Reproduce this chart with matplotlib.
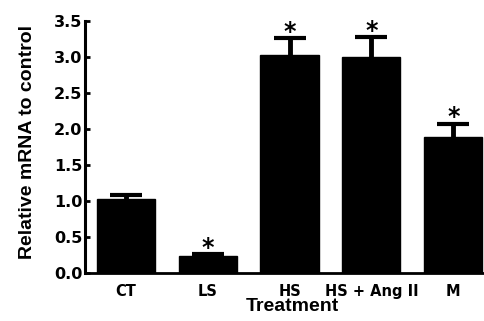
import matplotlib
matplotlib.use('Agg')
from matplotlib import pyplot as plt
from matplotlib.transforms import ScaledTranslation

# values
groups = ['CT', 'LS', 'HS', 'HS + Ang II', 'M']
means = [1.02, 0.23, 3.03, 3.00, 1.88]
sem_up = [0.06, 0.025, 0.23, 0.27, 0.19]
significant = [False, True, True, True, True]

fig = plt.figure(figsize=(4.84, 3.21), dpi=100)
ax = fig.add_axes([0.1756, 0.1505, 0.8244, 0.785])

xs = list(range(len(groups)))
ax.bar(xs, means, width=0.71, color='black', edgecolor='black', zorder=3)
_, caps, _ = ax.errorbar(xs, means, yerr=[[0] * len(sem_up), sem_up], fmt='none',
                         ecolor='black', elinewidth=3.5, capsize=11.5, capthick=3, zorder=2)
for c in caps: # only the upper whisker is drawn in the original
    if list(c.get_ydata()) == means:
        c.set_visible(False)

for x, m, e, s in zip(xs, means, sem_up, significant):
    if s: # asterisk above the error cap
        ax.annotate('*', (x, m + e), xytext=(0, 4.5), textcoords='offset points',
                    ha='center', va='center', fontsize=17, fontweight='bold',
                    family='DejaVu Sans')

ax.set_xlim(-0.498, 4.375)
ax.set_ylim(0, 3.5)
ax.set_yticks([0, 0.5, 1.0, 1.5, 2.0, 2.5, 3.0, 3.5])
ax.set_yticklabels(['%.1f' % v for v in ax.get_yticks()])
ax.set_xticks(xs)
ax.set_xticklabels(groups)

for lbl in ax.get_xticklabels():
    lbl.set_family('DejaVu Sans')
    lbl.set_fontweight('bold')
    lbl.set_fontsize(10.5)
for lbl in ax.get_yticklabels():
    lbl.set_family('DejaVu Sans')
    lbl.set_fontweight('bold')
    lbl.set_fontsize(11.5)

# the long label sits a little right of its bar in the original
long_lbl = ax.get_xticklabels()[3]
long_lbl.set_transform(long_lbl.get_transform() + ScaledTranslation(0.08, 0, fig.dpi_scale_trans))

ax.tick_params(axis='y', direction='in', length=3.5, width=2, pad=2)
ax.tick_params(axis='x', length=0, pad=8)

for side in ['top', 'right']:
    ax.spines[side].set_visible(False)
ax.spines['left'].set_linewidth(2.2)
ax.spines['bottom'].set_linewidth(2)

ax.set_xlabel('Treatment', family='Liberation Sans', fontweight='bold', fontsize=14)
ax.set_ylabel('Relative mRNA to control', family='Liberation Sans', fontweight='bold', fontsize=14)
ax.xaxis.set_label_coords(0.519, -0.1)
ax.yaxis.set_label_coords(-0.123, 0.517)

fig.savefig('out.png', dpi=100)
